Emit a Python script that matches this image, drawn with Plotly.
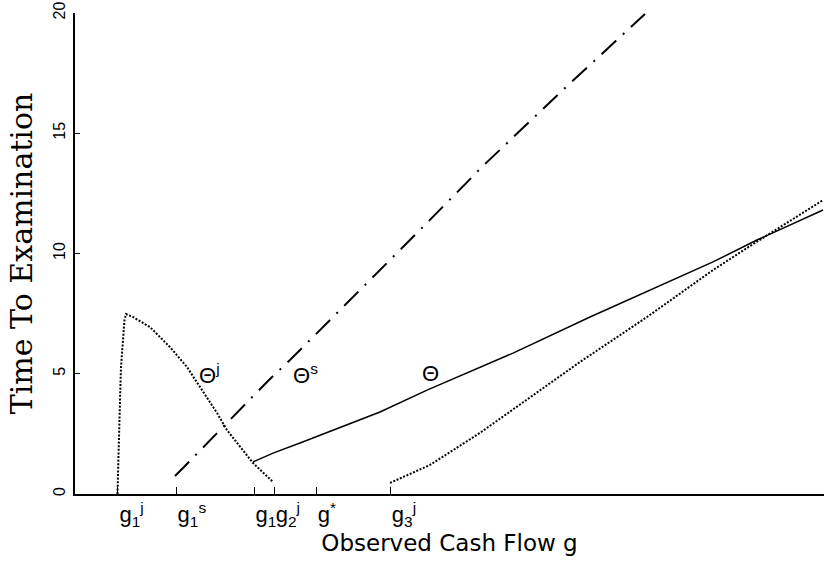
import plotly.graph_objects as go

# ---- data ----
theta_j_left_x = [5.67, 5.81, 6.01, 6.14, 6.41, 6.61, 6.81, 7.74, 10.01, 12.68, 14.95,
                  16.69, 18.96, 20.29, 22.03, 23.76, 26.44]
theta_j_left_y = [0.0, 2.25, 3.91, 5.28, 6.40, 7.24, 7.48, 7.36, 6.94, 6.11, 5.28,
                  4.45, 3.37, 2.66, 1.95, 1.29, 0.50]

theta_s_x = [13.35, 14.42, 25.63, 28.70, 35.38, 37.12, 46.06, 54.47, 65.69, 76.10]
theta_s_y = [0.75, 1.08, 4.66, 5.57, 7.65, 8.19, 10.98, 13.64, 16.96, 19.96]

theta_x = [23.76, 26.44, 30.04, 34.45, 36.72, 40.72, 47.0, 58.48, 68.76, 77.70, 85.18,
           91.05, 99.87]
theta_y = [1.33, 1.70, 2.12, 2.66, 2.91, 3.41, 4.32, 5.86, 7.36, 8.61, 9.65, 10.56, 11.81]

theta_j_right_x = [42.06, 47.4, 54.07, 60.75, 67.42, 76.37, 85.18, 89.72, 94.13, 99.87]
theta_j_right_y = [0.46, 1.21, 2.54, 4.03, 5.49, 7.36, 9.31, 10.23, 11.10, 12.22]

x_tick_vals = [5.74, 13.5, 23.9, 26.6, 32.2, 42.1]
x_tick_text = ["g<sub>1</sub><sup>j</sup>", "g<sub>1</sub><sup>s</sup>", "g<sub>1</sub>",
               "g<sub>2</sub><sup>j</sup>", "g<sup>*</sup>", "g<sub>3</sub><sup>j</sup>"]
y_tick_vals = [0, 5, 10, 15, 20]
y_tick_text = ["0", "5", "10", "15", "20"]

curve_labels = ["Θ<sup>j</sup>", "Θ<sup>s</sup>", "Θ"]
curve_label_x = [16.3, 28.85, 46.1]
curve_label_y = [5.0, 5.0, 5.0]

# ---- figure ----
fig = go.Figure()
dot = dict(color="black", width=2, dash="2px,1.6px")
fig.add_trace(go.Scatter(x=theta_j_left_x, y=theta_j_left_y, mode="lines",
                         line=dot, showlegend=False, hoverinfo="skip"))
fig.add_trace(go.Scatter(x=theta_j_right_x, y=theta_j_right_y, mode="lines",
                         line=dot, showlegend=False, hoverinfo="skip"))
fig.add_trace(go.Scatter(x=theta_s_x, y=theta_s_y, mode="lines",
                         line=dict(color="black", width=2, dash="20px,9px,2px,9px"),
                         showlegend=False, hoverinfo="skip"))
fig.add_trace(go.Scatter(x=theta_x, y=theta_y, mode="lines",
                         line=dict(color="black", width=1.5),
                         showlegend=False, hoverinfo="skip"))

for t, xx, yy in zip(curve_labels, curve_label_x, curve_label_y):
    fig.add_annotation(x=xx, y=yy, text=t, showarrow=False, xanchor="left",
                       yanchor="middle", font=dict(family="Liberation Sans", size=22,
                                                   color="black"))

fig.update_layout(
    width=824, height=563,
    margin=dict(l=75, r=0, t=13, b=69, autoexpand=False),
    paper_bgcolor="white", plot_bgcolor="white",
    xaxis=dict(range=[0, 100], showgrid=False, zeroline=False, automargin=False,
               showline=True, linecolor="black", linewidth=2,
               ticks="inside", ticklen=7, tickwidth=1, tickcolor="black",
               tickvals=x_tick_vals, ticktext=x_tick_text, tickangle=0,
               ticklabelposition="outside right",
               tickfont=dict(family="Liberation Sans", size=22, color="black"),
               title=dict(text="Observed Cash Flow g", standoff=2,
                          font=dict(family="DejaVu Sans", size=23, color="black"))),
    yaxis=dict(range=[0, 20], showgrid=False, zeroline=False, automargin=False,
               showline=True, linecolor="black", linewidth=2,
               ticks="inside", ticklen=5, tickwidth=1, tickcolor="black",
               tickvals=y_tick_vals, ticktext=y_tick_text, tickangle=-90,
               ticklabelstandoff=2,
               tickfont=dict(family="Liberation Sans", size=16, color="black"),
               title=dict(text="Time To Examination", standoff=9,
                          font=dict(family="DejaVu Serif", size=30, color="black"))),
)

fig.write_html("out.html", config={"displayModeBar": False},
               post_script="document.body.style.margin='0';")
